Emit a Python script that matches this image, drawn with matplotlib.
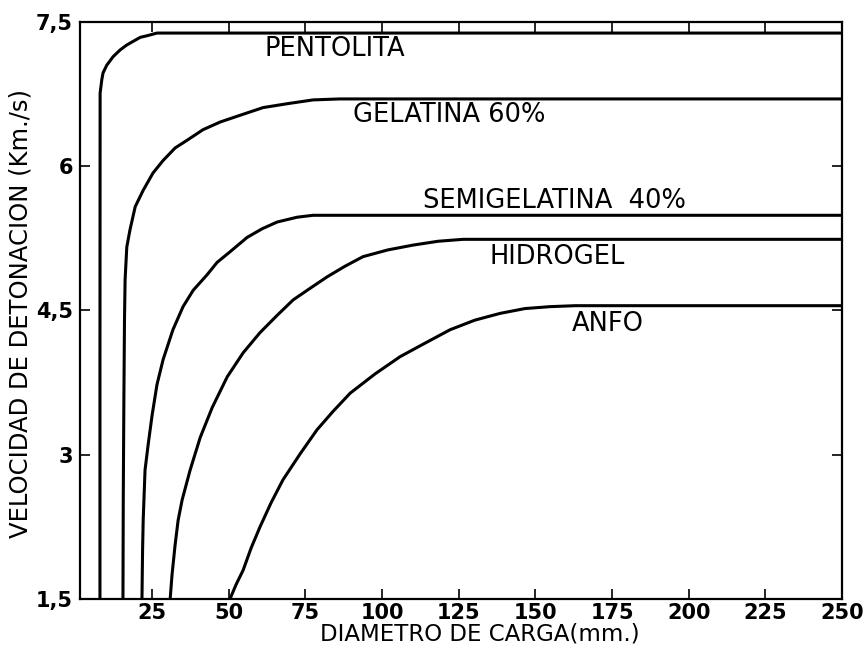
import matplotlib
matplotlib.use('Agg')
import matplotlib.pyplot as plt
from matplotlib.ticker import FixedLocator, FixedFormatter

# curvas (diametro mm, velocidad km/s)
pentolita_x = [8.0, 8.0, 8.05, 8.6, 9.0, 10.2, 12.3, 14.6, 16.7, 21.1, 23.7, 26.6, 250]
pentolita_y = [1.5, 4.0, 6.76, 6.90, 6.97, 7.05, 7.14, 7.21, 7.26, 7.34, 7.36, 7.385, 7.385]

gelatina_x = [15.5, 15.6, 15.8, 16.0, 16.2, 16.75, 17.8, 19.5, 22.1, 25.3, 28.6, 32.5,
              36.4, 41.6, 47.2, 53.7, 61.2, 69.0, 77.5, 86.3, 250]
gelatina_y = [1.5, 2.53, 3.57, 4.40, 4.82, 5.16, 5.34, 5.58, 5.75, 5.93, 6.06, 6.19,
              6.27, 6.38, 6.46, 6.53, 6.61, 6.65, 6.69, 6.70, 6.70]

semigel_x = [21.7, 21.9, 22.1, 22.7, 23.7, 25.0, 26.6, 28.6, 31.8, 35.1, 38.4, 42.9,
             46.2, 50.4, 56.0, 60.9, 65.8, 72.3, 77.5, 250]
semigel_y = [1.5, 2.01, 2.32, 2.84, 3.10, 3.41, 3.73, 3.99, 4.30, 4.54, 4.71, 4.87,
             5.00, 5.11, 5.26, 5.35, 5.42, 5.47, 5.49, 5.49]

hidrogel_x = [30.9, 31.5, 32.5, 33.5, 34.8, 37.4, 40.7, 44.6, 49.5, 54.7, 60.2, 65.8,
              71.0, 76.5, 82.1, 87.9, 93.8, 101.9, 110.1, 118.3, 126.4, 250]
hidrogel_y = [1.5, 1.75, 2.06, 2.32, 2.53, 2.84, 3.18, 3.49, 3.81, 4.06, 4.27, 4.45,
              4.61, 4.73, 4.85, 4.96, 5.06, 5.13, 5.18, 5.22, 5.24, 5.24]

anfo_x = [50.4, 52.4, 54.7, 57.3, 60.2, 63.8, 67.7, 73.3, 78.8, 84.0, 89.6, 97.7,
          105.9, 114.0, 122.2, 130.3, 138.5, 146.6, 154.8, 163.0, 250]
anfo_y = [1.5, 1.65, 1.80, 2.03, 2.25, 2.50, 2.74, 3.01, 3.26, 3.45, 3.64, 3.84,
          4.02, 4.16, 4.30, 4.40, 4.47, 4.52, 4.54, 4.55, 4.55]

etiquetas = ['PENTOLITA', 'GELATINA 60%', 'SEMIGELATINA  40%', 'HIDROGEL', 'ANFO']
etiqueta_x = [61.8, 90.5, 113.4, 135.2, 161.9]
etiqueta_y = [7.22, 6.53, 5.64, 5.06, 4.36]

x_ticks = [25, 50, 75, 100, 125, 150, 175, 200, 225, 250]
y_ticks = [1.5, 3, 4.5, 6, 7.5]
y_tick_labels = ['1,5', '3', '4,5', '6', '7,5']

fig = plt.figure(figsize=(8.68, 6.51), dpi=100)
ax = fig.add_axes([0.0922, 0.0799, 0.8778, 0.8863])

curvas = [(pentolita_x, pentolita_y), (gelatina_x, gelatina_y),
          (semigel_x, semigel_y), (hidrogel_x, hidrogel_y), (anfo_x, anfo_y)]
for cx, cy in curvas:
    ax.plot(cx, cy, color='black', linewidth=2.2, solid_capstyle='butt',
            solid_joinstyle='round')

for txt, tx, ty in zip(etiquetas, etiqueta_x, etiqueta_y):
    ax.text(tx, ty, txt, fontsize=18.5, ha='left', va='center', color='black')

ax.set_xlim(1.5, 250)
ax.set_ylim(1.5, 7.5)

ax.xaxis.set_major_locator(FixedLocator(x_ticks))
ax.yaxis.set_major_locator(FixedLocator(y_ticks))
ax.yaxis.set_major_formatter(FixedFormatter(y_tick_labels))
ax.tick_params(direction='in', length=7, width=1.2, top=True, right=True,
               labelsize=15, colors='black')
ax.tick_params(axis='x', pad=3)
ax.tick_params(axis='y', pad=5)
for lab in ax.get_xticklabels() + ax.get_yticklabels():
    lab.set_fontweight('bold')

for sp in ax.spines.values():
    sp.set_linewidth(1.6)
    sp.set_color('black')

ax.set_xlabel('DIAMETRO DE CARGA(mm.)', fontsize=16.5)
ax.xaxis.set_label_coords(0.525, -0.04)
ax.set_ylabel('VELOCIDAD DE DETONACION (Km./s)', fontsize=17.5)
ax.yaxis.set_label_coords(-0.062, 0.495)

fig.savefig('out.png', dpi=100)
